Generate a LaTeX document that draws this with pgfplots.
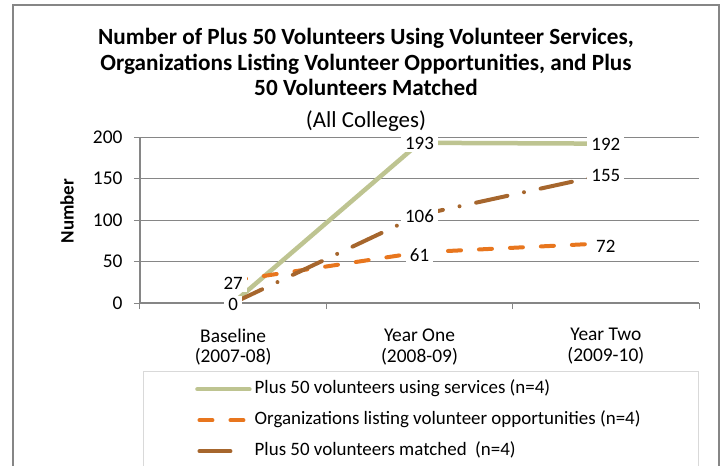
\documentclass[border=0pt]{standalone}
\usepackage{pgfplots}
\pgfplotsset{compat=1.18}
\usepackage{fontspec}
\setmainfont{Carlito}
\definecolor{greenline}{RGB}{190,196,145}
\definecolor{orangeline}{RGB}{232,118,30}
\definecolor{brownline}{RGB}{166,102,45}
\definecolor{axisgray}{RGB}{134,134,134}
\definecolor{legendgray}{RGB}{217,217,217}
\pgfplotsset{
  greenleg/.style={legend image code/.code={\draw[##1] (0bp,0bp) -- (52bp,0bp);}},
  orangeleg/.style={legend image code/.code={\draw[##1] (2bp,0bp) -- (52bp,0bp);}},
  brownleg/.style={legend image code/.code={\path[draw=none] (0bp,0bp) -- (52bp,0bp); \draw[brownline, solid, line width=4bp, line cap=round] (2bp,0bp) -- (33bp,0bp);}},
  labelstyle/.style={every node near coord/.append style={anchor=center, fill=white, inner xsep=4bp, inner ysep=2bp, yshift=#1, font=\fontsize{19}{21}\selectfont}},
}
\begin{document}
\begin{tikzpicture}
\useasboundingbox (-140bp,-163bp) rectangle (583bp,303bp);
\draw[color=axisgray, line width=1.3bp] (-127bp,-200bp) rectangle (579bp,298bp);
\node[font=\fontsize{23.3}{26}\selectfont\bfseries, anchor=base, inner sep=0pt] at (226bp,258bp) {Number of Plus 50 Volunteers Using Volunteer Services,};
\node[font=\fontsize{23.3}{26}\selectfont\bfseries, anchor=base, inner sep=0pt] at (226bp,232bp) {Organizations Listing Volunteer Opportunities, and Plus};
\node[font=\fontsize{23.3}{26}\selectfont\bfseries, anchor=base, inner sep=0pt] at (226bp,207bp) {50 Volunteers Matched};
\node[font=\fontsize{23}{26}\selectfont, anchor=base, inner sep=0pt] at (226bp,175bp) {(All Colleges)};
\draw[legendgray, line width=1bp] (3bp,-68bp) rectangle (558bp,-200bp);
\begin{axis}[
  scale only axis, width=559bp, height=166bp,
  xmin=-0.5, xmax=2.5, ymin=0, ymax=200,
  clip=false,
  axis lines=left,
  axis line style={-, draw=axisgray, line width=1.1bp},
  tick align=outside,
  major tick length=6bp,
  tick style={draw=axisgray, line width=1bp},
  ytick={0,50,100,150,200},
  ymajorgrids,
  grid style={draw=axisgray, line width=1bp},
  xtick={-0.5,0.5,1.5,2.5},
  xticklabels={},
  extra x ticks={0,1,2},
  extra x tick labels={{Baseline\\(2007-08)},{Year One\\(2008-09)},{Year Two\\(2009-10)}},
  extra x tick style={major tick length=0pt, tick label style={align=center, yshift=-22bp}},
  tick label style={font=\fontsize{19.5}{21}\selectfont},
  yticklabel style={xshift=-8bp},
  /pgf/number format/assume math mode=true,
  every axis y label/.style={at={(axis description cs:-0.1306,0.554)}, rotate=90, anchor=center, font=\fontsize{19}{21}\selectfont\bfseries},
  ylabel={Number},
  legend style={at={(axis description cs:0.0984,-0.467)}, anchor=north west, draw=none, fill=none, inner sep=0pt,
    font=\fontsize{19}{21}\selectfont, row sep=14bp, column sep=3bp,
    nodes={inner sep=0pt, text height=13bp, text depth=4bp}},
  legend cell align=left,
]
\addplot[greenline, line width=4.5bp, line cap=round, greenleg]
  coordinates {(0,0) (1,193) (2,192)};
\addlegendentry{Plus 50 volunteers using services (n=4)}
\addplot[orangeline, line width=4bp, line cap=round, dash pattern=on 13bp off 18bp, orangeleg]
  coordinates {(0,27) (1,61) (2,72)};
\addlegendentry{Organizations listing volunteer opportunities (n=4)}
\addplot[brownline, line width=4bp, line cap=round, dash pattern=on 32bp off 17bp on 0bp off 17bp, brownleg]
  coordinates {(0,0) (1,106) (2,155)};
\addlegendentry{Plus 50 volunteers matched\ \ (n=4)}
% data labels on top
\addplot[draw=none, forget plot, point meta=y, nodes near coords, labelstyle=-1bp]
  coordinates {(0,0) (1,193) (2,192)};
\addplot[draw=none, forget plot, point meta=y, nodes near coords, labelstyle=-3bp]
  coordinates {(0,27) (1,61) (2,72)};
\addplot[draw=none, forget plot, point meta=y, nodes near coords, labelstyle=-1bp]
  coordinates {(0,0) (1,106) (2,155)};
\end{axis}
\end{tikzpicture}
\end{document}
